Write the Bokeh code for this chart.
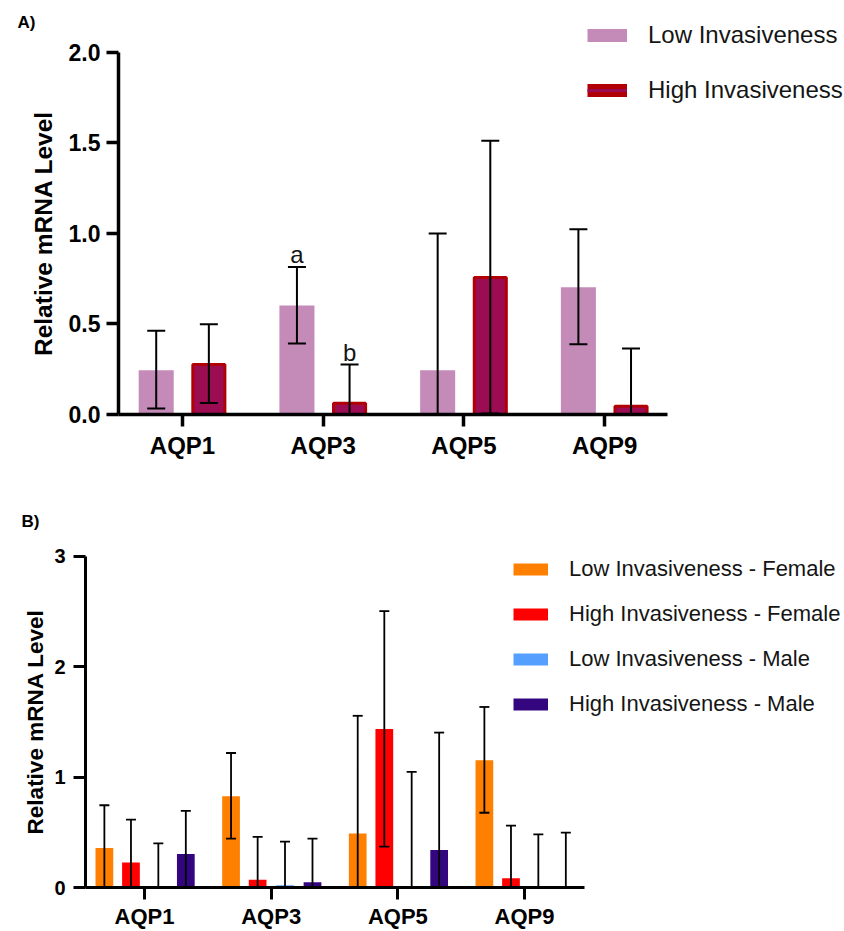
from bokeh.plotting import figure
from bokeh.models import (ColumnDataSource, Whisker, TeeHead, FixedTicker, LinearAxis,
                          NumeralTickFormatter, Range1d, Legend, LegendItem)
from bokeh.embed import file_html
from bokeh.resources import INLINE
from bokeh.core.properties import value

# ---------------- data ----------------
genes = ["AQP1", "AQP3", "AQP5", "AQP9"]

# Panel A
low_mean = [0.245, 0.602, 0.245, 0.703]
low_upper = [0.462, 0.815, 1.000, 1.024]
low_lower = [0.033, 0.392, 0.000, 0.388]
high_mean = [0.276, 0.062, 0.757, 0.046]
high_upper = [0.499, 0.276, 1.512, 0.365]
high_lower = [0.064, 0.000, 0.005, 0.000]
a_yticks = [0, 0.5, 1.0, 1.5, 2.0]
a_ymax = 2.0
sig_labels = ["a", "b"]          # AQP3: low / high
a_series = ["Low Invasiveness", "High Invasiveness"]

# Panel B
lf_mean = [0.358, 0.827, 0.488, 1.153]
lf_upper = [0.745, 1.218, 1.555, 1.635]
lf_lower = [0.000, 0.442, 0.000, 0.677]
hf_mean = [0.227, 0.070, 1.436, 0.084]
hf_upper = [0.615, 0.458, 2.503, 0.560]
hf_lower = [0.000, 0.000, 0.370, 0.000]
lm_mean = [0.010, 0.021, 0.003, 0.003]
lm_upper = [0.400, 0.415, 1.048, 0.482]
lm_lower = [0.000, 0.000, 0.000, 0.000]
hm_mean = [0.303, 0.048, 0.340, 0.010]
hm_upper = [0.694, 0.442, 1.403, 0.497]
hm_lower = [0.000, 0.000, 0.000, 0.000]
b_yticks = [0, 1, 2, 3]
b_ymax = 3
b_series = ["Low Invasiveness - Female", "High Invasiveness - Female",
            "Low Invasiveness - Male", "High Invasiveness - Male"]

Y_LABEL = "Relative mRNA Level"

# ---------------- styles ----------------
FONT = "Liberation Sans"
LOW_A = "#c48bb8"
HIGH_A_FILL = "#9c0c52"
HIGH_A_EDGE = "#b00006"
B_COLORS = ["#ff8000", "#ff0000", "#55a0ff", "#33067f"]
TXT = "#151515"

idx = list(range(len(genes)))


def style_axes(p, tick_font, ytick_font, line_w, x_standoff, y_standoff, xb, yb):
    p.outline_line_color = None
    p.grid.grid_line_color = None
    for ax in (p.xaxis[0], p.yaxis[0]):
        ax.axis_line_width = line_w
        ax.axis_line_color = "black"
        ax.major_tick_line_width = line_w
        ax.major_tick_line_color = "black"
        ax.major_tick_out = 12
        ax.major_tick_in = 0
        ax.minor_tick_line_color = None
        ax.major_label_text_font = FONT
        ax.major_label_text_font_style = "bold"
        ax.major_label_text_color = "black"
    p.xaxis[0].ticker = FixedTicker(ticks=idx)
    p.xaxis[0].major_label_overrides = {i: g for i, g in zip(idx, genes)}
    p.xaxis[0].major_label_text_font_size = tick_font
    p.xaxis[0].major_label_standoff = x_standoff
    p.xaxis[0].bounds = xb
    p.yaxis[0].major_label_text_font_size = ytick_font
    p.yaxis[0].major_label_standoff = y_standoff
    p.yaxis[0].bounds = yb


def text_axis(tick, text, size, standoff, vertical):
    ax = LinearAxis(ticker=FixedTicker(ticks=[tick]), major_label_overrides={tick: text},
                    axis_line_color=None, major_tick_line_color=None,
                    minor_tick_line_color=None, major_tick_out=0, major_tick_in=0,
                    major_label_standoff=standoff, major_label_text_font=FONT,
                    major_label_text_font_style="bold", major_label_text_font_size=size,
                    major_label_text_color="black")
    if vertical:
        ax.major_label_orientation = "vertical"
    return ax


def add_whiskers(p, xs, upper, lower, cap, lw):
    src = ColumnDataSource(dict(x=xs, upper=upper, lower=lower))
    w = Whisker(source=src, base="x", upper="upper", lower="lower",
                dimension="height", line_color="black", line_width=lw,
                upper_head=TeeHead(size=cap, line_width=lw, line_color="black"),
                lower_head=TeeHead(size=cap, line_width=lw, line_color="black"),
                level="overlay")
    p.add_layout(w)


# ---------------- Panel A ----------------
A_X0, A_X1 = -0.455, 3.448
pa = figure(width=844, height=461, output_backend="svg", toolbar_location=None,
            x_range=Range1d(A_X0, 4.704), y_range=Range1d(0, 2.287),
            min_border_left=118, min_border_right=0,
            min_border_top=0, min_border_bottom=47)
style_axes(pa, "24px", "23px", 3.5, 5, 6, (A_X0, A_X1), (0, a_ymax))
pa.yaxis[0].ticker = FixedTicker(ticks=a_yticks)
pa.yaxis[0].formatter = NumeralTickFormatter(format="0.0")
pa.add_layout(text_axis(a_ymax / 2, Y_LABEL, "24.5px", 8, True), "left")
pa.add_layout(text_axis(2.166, "A)", "17px", -8, False), "left")

OFF_A = 0.187
xa_low = [i - OFF_A for i in idx]
xa_high = [i + OFF_A for i in idx]

pa.vbar(x=xa_low, top=low_mean, width=0.249, fill_color=LOW_A, line_color=None)
pa.vbar(x=xa_high, top=high_mean, width=0.228, fill_color=HIGH_A_FILL,
        line_color=HIGH_A_EDGE, line_width=3)
add_whiskers(pa, xa_low, low_upper, low_lower, 18, 2)
add_whiskers(pa, xa_high, high_upper, high_lower, 18, 2)

k = genes.index("AQP3")
pa.text(x=[xa_low[k], xa_high[k]], y=[low_upper[k], high_upper[k]], text=sig_labels,
        text_font=value(FONT), text_font_size="24px", text_align="center",
        text_baseline="alphabetic", y_offset=-12.5, text_color=TXT)

# hidden proxies that only supply the legend swatches
pa_low_proxy = pa.line(x=xa_low, y=low_mean, line_width=13, line_color=LOW_A, visible=False)
pa_high_proxy1 = pa.line(x=xa_high, y=high_mean, line_width=13, line_color=HIGH_A_EDGE,
                         visible=False)
pa_high_proxy2 = pa.line(x=xa_high, y=high_mean, line_width=3, line_color=HIGH_A_FILL,
                         visible=False)
leg_a = Legend(items=[LegendItem(label=a_series[0], renderers=[pa_low_proxy]),
                      LegendItem(label=a_series[1], renderers=[pa_high_proxy1, pa_high_proxy2])],
               location=(469, 310), glyph_width=40, glyph_height=28, label_height=28,
               label_standoff=21, spacing=27, padding=0, margin=0,
               border_line_color=None, background_fill_alpha=0,
               inactive_fill_alpha=0,
               label_text_font=FONT, label_text_font_size="24px", label_text_color=TXT)
pa.add_layout(leg_a)

# ---------------- Panel B ----------------
B_X0, B_X1 = -0.466, 3.474
pb = figure(width=844, height=470, output_backend="svg", toolbar_location=None,
            x_range=Range1d(B_X0, 5.526), y_range=Range1d(0, 3.858),
            min_border_left=85, min_border_right=0,
            min_border_top=0, min_border_bottom=43)
style_axes(pb, "22px", "20px", 3, 4, 8, (B_X0, B_X1), (0, b_ymax))
pb.yaxis[0].ticker = FixedTicker(ticks=b_yticks)
pb.add_layout(text_axis(b_ymax / 2, Y_LABEL, "22.5px", 3, True), "left")
pb.add_layout(text_axis(3.316, "B)", "17px", -19, False), "left")

OFF_B = [-0.317, -0.107, 0.109, 0.326]
b_means = [lf_mean, hf_mean, lm_mean, hm_mean]
b_uppers = [lf_upper, hf_upper, lm_upper, hm_upper]
b_lowers = [lf_lower, hf_lower, lm_lower, hm_lower]
b_proxies = []
for off, m, u, l, c in zip(OFF_B, b_means, b_uppers, b_lowers, B_COLORS):
    xs = [i + off for i in idx]
    pb.vbar(x=xs, top=m, width=0.14, fill_color=c, line_color=None)
    add_whiskers(pb, xs, u, l, 10, 1.8)
    b_proxies.append(pb.line(x=xs, y=m, line_width=12, line_color=c, visible=False))

leg_b = Legend(items=[LegendItem(label=s, renderers=[r]) for s, r in zip(b_series, b_proxies)],
               location=(428, 169), glyph_width=35, glyph_height=28, label_height=28,
               label_standoff=21, spacing=17, padding=0, margin=0,
               border_line_color=None, background_fill_alpha=0,
               inactive_fill_alpha=0,
               label_text_font=FONT, label_text_font_size="22px", label_text_color=TXT)
pb.add_layout(leg_b)

open("out.html", "w").write(file_html([pa, pb], INLINE))
